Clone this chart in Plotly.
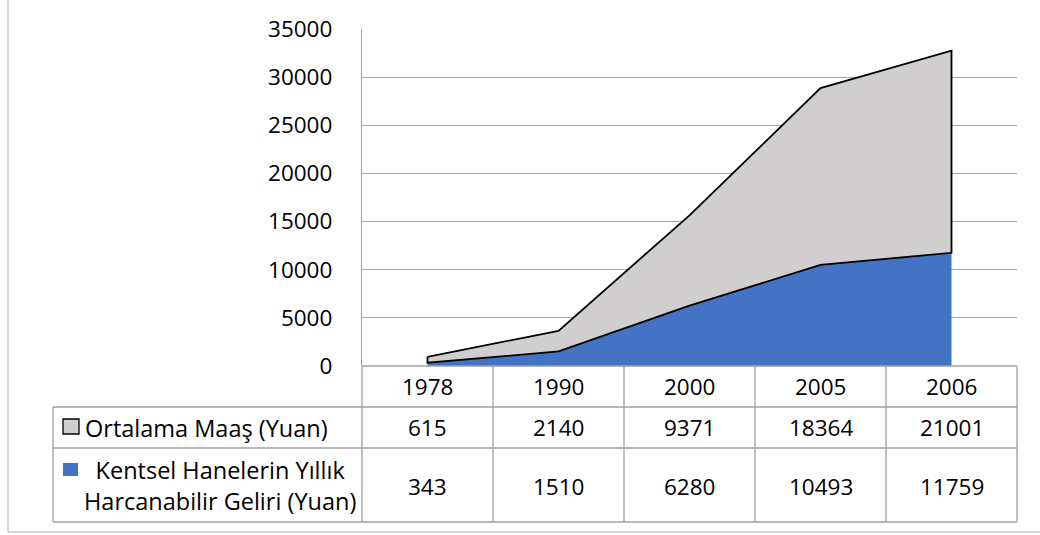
import plotly.graph_objects as go

years = ["1978", "1990", "2000", "2005", "2006"]
maas = [615, 2140, 9371, 18364, 21001]          # Ortalama Maaş (Yuan)
gelir = [343, 1510, 6280, 10493, 11759]         # Kentsel Hanelerin Yıllık Harcanabilir Geliri (Yuan)
y_ticks = [0, 5000, 10000, 15000, 20000, 25000, 30000, 35000]

series_names = ["Ortalama Maaş (Yuan)", "Kentsel Hanelerin Yıllık<br>Harcanabilir Geliri (Yuan)"]
GRAY = "#D0CECE"
BLUE = "#4472C4"
FONT = "Open Sans"
FS = 22.5
FS_LABEL = 23.5

idx = list(range(len(years)))
stacked_top = [g + m for g, m in zip(gelir, maas)]

fig = go.Figure()

# bottom stack: disposable income
fig.add_trace(go.Scatter(
    x=idx, y=gelir, mode="lines", fill="tozeroy",
    fillcolor=BLUE, line=dict(width=0, color=BLUE),
    hoverinfo="skip", showlegend=False,
))

# upper stack: average wage, outlined band between the two cumulative curves
fig.add_trace(go.Scatter(
    x=idx + idx[::-1] + [idx[0]],
    y=stacked_top + gelir[::-1] + [stacked_top[0]],
    mode="lines", fill="toself", fillcolor=GRAY,
    line=dict(width=1.8, color="black"),
    hoverinfo="skip", showlegend=False,
))

# plot area geometry in pixels (for paper coordinates of the data table)
L, R, T, B = 362, 23, 29, 169
W, H = 1040, 535
pw, ph = W - L - R, H - T - B

def px(xp):
    return (xp - L) / pw

def py(yp):
    return (H - B - yp) / ph

shapes = []
annotations = []
TABLE_LINE = dict(color="#A0A0A0", width=1.3)

n = len(years)
row_y = [py(366), py(407), py(448), py(522)]
left_x = px(53)

# horizontal table rules
shapes.append(dict(type="line", xref="paper", yref="paper", x0=0, x1=1, y0=row_y[0], y1=row_y[0], line=TABLE_LINE))
for ry in row_y[1:]:
    shapes.append(dict(type="line", xref="paper", yref="paper", x0=left_x, x1=1, y0=ry, y1=ry, line=TABLE_LINE))
# vertical table rules
for i in range(n + 1):
    xv = i / n
    shapes.append(dict(type="line", xref="paper", yref="paper", x0=xv, x1=xv, y0=row_y[0], y1=row_y[3], line=TABLE_LINE))
shapes.append(dict(type="line", xref="paper", yref="paper", x0=left_x, x1=left_x, y0=row_y[1], y1=row_y[3], line=TABLE_LINE))

# cell text
row_centers = [py(386), py(428), py(486)]
for i, yr in enumerate(years):
    xc = (i + 0.5) / n
    annotations.append(dict(x=xc, y=row_centers[0], xref="paper", yref="paper", text=yr, showarrow=False,
                            xanchor="center", yanchor="middle"))
    annotations.append(dict(x=xc, y=row_centers[1], xref="paper", yref="paper", text=str(maas[i]), showarrow=False,
                            xanchor="center", yanchor="middle"))
    annotations.append(dict(x=xc, y=row_centers[2], xref="paper", yref="paper", text=str(gelir[i]), showarrow=False,
                            xanchor="center", yanchor="middle"))

# legend keys inside the table
shapes.append(dict(type="rect", xref="paper", yref="paper", x0=px(63), x1=px(79), y0=py(434), y1=py(419),
                   fillcolor=GRAY, line=dict(color="black", width=1.3)))
shapes.append(dict(type="rect", xref="paper", yref="paper", x0=px(63), x1=px(78), y0=py(476), y1=py(463),
                   fillcolor=BLUE, line=dict(width=0)))
annotations.append(dict(x=px(83), y=row_centers[1], xref="paper", yref="paper", text=series_names[0],
                        showarrow=False, xanchor="left", yanchor="middle", font=dict(size=FS_LABEL)))
annotations.append(dict(x=px(220), y=py(485), xref="paper", yref="paper", text=series_names[1],
                        showarrow=False, xanchor="center", yanchor="middle", align="center",
                        font=dict(size=FS_LABEL)))

# outer chart frame
FRAME = dict(color="#C8C8C8", width=1.5)
shapes.append(dict(type="line", xref="paper", yref="paper", x0=px(8), x1=px(8), y0=py(0), y1=py(532), line=FRAME))
shapes.append(dict(type="line", xref="paper", yref="paper", x0=px(8), x1=px(1040), y0=py(532), y1=py(532), line=FRAME))

fig.update_layout(
    width=W, height=H,
    margin=dict(l=L, r=R, t=T, b=B),
    paper_bgcolor="white", plot_bgcolor="white",
    font=dict(family=FONT, size=FS, color="black"),
    shapes=shapes, annotations=annotations,
    xaxis=dict(range=[-0.5, n - 0.5], showticklabels=False, showgrid=False, zeroline=False,
               showline=False, fixedrange=True),
    yaxis=dict(range=[0, 35000], tickvals=y_ticks, ticktext=[str(v) for v in y_ticks],
               showgrid=True, gridcolor="#A6A6A6", gridwidth=1.3, zeroline=False,
               showline=True, linecolor="#A0A0A0", linewidth=1.3, ticks="",
               ticklabelstandoff=24, tickfont=dict(family=FONT, size=FS), fixedrange=True),
)

fig.write_html("out.html")
